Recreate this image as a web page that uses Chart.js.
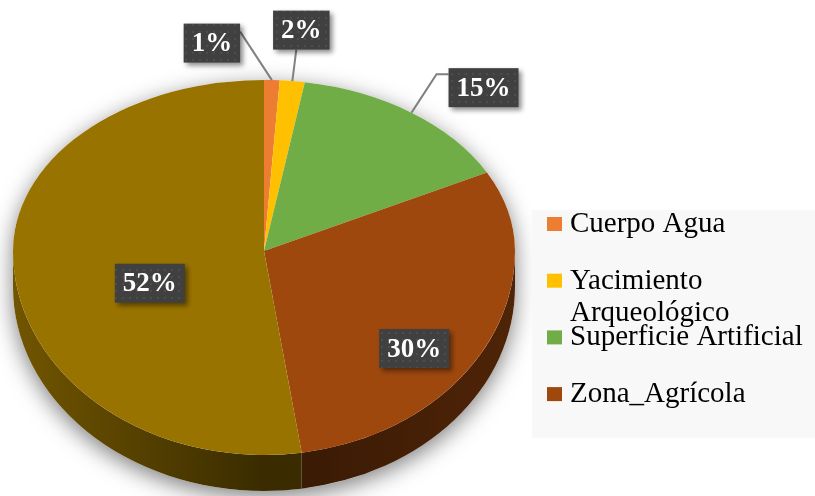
<!DOCTYPE html>
<html lang="es">
<head>
<meta charset="UTF-8">
<title>Cobertura del suelo</title>
<script src="https://cdn.jsdelivr.net/npm/chart.js"></script>
<style>
  html, body { margin: 0; padding: 0; background: #fff; }
  #caja { width: 815px; height: 496px; }
</style>
</head>
<body>
<div id="caja"><canvas id="grafico" width="815" height="496"></canvas></div>
<script>
// datos
const etiquetas = ['Cuerpo Agua', 'Yacimiento Arqueológico', 'Superficie Artificial', 'Zona_Agrícola', 'Vegetación'];
const valores = [1.0, 1.6, 14.8, 30.2, 52.4];
const itemsLeyenda = 4; // la leyenda original solo muestra cuatro

// estilo
const colores = ['#ED7D31', '#FFC000', '#70AD47', '#9E480E', '#997300'];
const RX = 251, RY_ARRIBA = 171, RY_ABAJO = 204, PROF = 36;
// posicion de etiquetas: fraccion del radio sobre el angulo medio + desplazamiento
const lugarEtiqueta = [
    { f: 1, dx: -60, dy: -37, linea: 'derecha' },
    { f: 1, dx: 9, dy: -51, linea: 'abajo' },
    { f: 1, dx: 72, dy: -25, linea: 'codo' },
    { f: 0.6, dx: 16, dy: 42, linea: null },
    { f: 0.6, dx: 36, dy: 23, linea: null }
];

function sombra(hex, k) {
    const n = parseInt(hex.slice(1), 16);
    const r = Math.round(((n >> 16) & 255) * k);
    const g = Math.round(((n >> 8) & 255) * k);
    const b = Math.round((n & 255) * k);
    return `rgb(${r},${g},${b})`;
}

function puntoElipse(cx, cy, t, f) {
    const ry = Math.sin(t) >= 0 ? RY_ABAJO : RY_ARRIBA;
    return { x: cx + RX * f * Math.cos(t), y: cy + ry * f * Math.sin(t) };
}

// patron de puntos para las cajas de etiquetas
const tile = document.createElement('canvas');
tile.width = 7; tile.height = 7;
const tctx = tile.getContext('2d');
tctx.fillStyle = '#404040';
tctx.fillRect(0, 0, 7, 7);
tctx.fillStyle = '#4d4d4d';
tctx.fillRect(3, 3, 2, 2);

const pastel3d = {
    id: 'pastel3d',
    beforeDatasetsDraw(chart) {
        const ctx = chart.ctx;
        const meta = chart.getDatasetMeta(0);
        const a0 = meta.data[0];
        const cx = a0.x, cy = a0.y, R = a0.outerRadius;

        // sombra del cuerpo
        ctx.save();
        ctx.beginPath();
        ctx.ellipse(cx, cy, RX, RY_ARRIBA, 0, Math.PI, 2 * Math.PI);
        ctx.ellipse(cx, cy + PROF, RX, RY_ABAJO, 0, 0, Math.PI);
        ctx.closePath();
        ctx.shadowColor = 'rgba(0,0,0,0.5)';
        ctx.shadowBlur = 22;
        ctx.shadowOffsetY = 6;
        ctx.fillStyle = '#fff';
        ctx.fill();
        ctx.restore();

        // lados visibles
        meta.data.forEach((arc, i) => {
            const a = Math.max(arc.startAngle, 0);
            const b = Math.min(arc.endAngle, Math.PI);
            if (a >= b) return;
            const grad = ctx.createLinearGradient(cx - RX, 0, cx + RX, 0);
            grad.addColorStop(0, sombra(colores[i], 0.74));
            grad.addColorStop(0.5, sombra(colores[i], 0.38));
            grad.addColorStop(0.62, sombra(colores[i], 0.38));
            grad.addColorStop(1, sombra(colores[i], 0.5));
            ctx.beginPath();
            ctx.ellipse(cx, cy, RX, RY_ABAJO, 0, a, b);
            ctx.ellipse(cx, cy + PROF, RX, RY_ABAJO, 0, b, a, true);
            ctx.closePath();
            ctx.fillStyle = grad;
            ctx.fill();
        });

        // mitad superior de la cara
        ctx.save();
        ctx.beginPath();
        ctx.rect(0, 0, chart.width, cy + 0.5);
        ctx.clip();
        ctx.translate(cx, cy);
        ctx.scale(RX / R, RY_ARRIBA / R);
        ctx.translate(-cx, -cy);
    },
    afterDatasetsDraw(chart) {
        const ctx = chart.ctx;
        ctx.restore();
        const meta = chart.getDatasetMeta(0);
        const a0 = meta.data[0];
        const cx = a0.x, cy = a0.y, R = a0.outerRadius;

        // mitad inferior de la cara
        ctx.save();
        ctx.beginPath();
        ctx.rect(0, cy - 0.5, chart.width, chart.height);
        ctx.clip();
        ctx.translate(cx, cy);
        ctx.scale(RX / R, RY_ABAJO / R);
        ctx.translate(-cx, -cy);
        meta.data.forEach(arc => arc.draw(ctx));
        ctx.restore();
    },
    afterDraw(chart) {
        const ctx = chart.ctx;
        const meta = chart.getDatasetMeta(0);
        const cx = meta.data[0].x, cy = meta.data[0].y;
        const total = valores.reduce((s, v) => s + v, 0);
        const patron = ctx.createPattern(tile, 'repeat');

        // etiquetas de datos
        ctx.font = 'bold 27px "Liberation Serif"';
        meta.data.forEach((arc, i) => {
            const lugar = lugarEtiqueta[i];
            const mid = (arc.startAngle + arc.endAngle) / 2;
            const ancla = puntoElipse(cx, cy, mid, lugar.f);
            const texto = Math.round(valores[i] / total * 100) + '%';
            const w = ctx.measureText(texto).width + 16;
            const h = 39;
            const bx = ancla.x + lugar.dx - w / 2;
            const by = ancla.y + lugar.dy - h / 2;

            if (lugar.linea) {
                ctx.save();
                ctx.strokeStyle = '#808080';
                ctx.lineWidth = 2;
                ctx.beginPath();
                ctx.moveTo(ancla.x, ancla.y);
                if (lugar.linea === 'derecha') {
                    ctx.lineTo(bx + w, by + 8);
                } else if (lugar.linea === 'abajo') {
                    ctx.lineTo(bx + w / 2 - 5, by + h);
                } else {
                    ctx.lineTo(bx - 12, by + 6);
                    ctx.lineTo(bx, by + 6);
                }
                ctx.stroke();
                ctx.restore();
            }

            ctx.save();
            ctx.shadowColor = 'rgba(0,0,0,0.45)';
            ctx.shadowBlur = 5;
            ctx.shadowOffsetX = 3;
            ctx.shadowOffsetY = 3;
            ctx.fillStyle = patron;
            ctx.fillRect(bx, by, w, h);
            ctx.restore();

            ctx.fillStyle = '#fff';
            ctx.textAlign = 'center';
            ctx.textBaseline = 'middle';
            ctx.fillText(texto, bx + w / 2, by + h / 2 + 1);
        });

        // leyenda
        ctx.fillStyle = '#f8f8f8';
        ctx.fillRect(532, 210, 283, 228);
        ctx.font = '29px "Liberation Serif"';
        ctx.textAlign = 'left';
        ctx.textBaseline = 'alphabetic';
        etiquetas.slice(0, itemsLeyenda).forEach((et, i) => {
            const base = 232 + i * 56.7;
            ctx.fillStyle = colores[i];
            ctx.fillRect(547, base - 15, 15, 14);
            ctx.fillStyle = '#000';
            // ajuste de linea como en la leyenda original
            const palabras = et.split(' ');
            const lineas = [];
            let actual = '';
            palabras.forEach(p => {
                const prueba = actual ? actual + ' ' + p : p;
                if (ctx.measureText(prueba).width > 245 && actual) {
                    lineas.push(actual);
                    actual = p;
                } else {
                    actual = prueba;
                }
            });
            lineas.push(actual);
            lineas.forEach((l, j) => ctx.fillText(l, 570, base + j * 32));
        });
    }
};

new Chart(document.getElementById('grafico'), {
    type: 'pie',
    data: {
        labels: etiquetas,
        datasets: [{
            data: valores,
            backgroundColor: colores,
            borderWidth: 0
        }]
    },
    options: {
        responsive: false,
        devicePixelRatio: 1,
        animation: false,
        clip: false,
        layout: { padding: { left: 64, right: 351, top: 51, bottom: 45 } },
        plugins: {
            legend: { display: false },
            tooltip: { enabled: false }
        }
    },
    plugins: [pastel3d]
});
</script>
</body>
</html>
